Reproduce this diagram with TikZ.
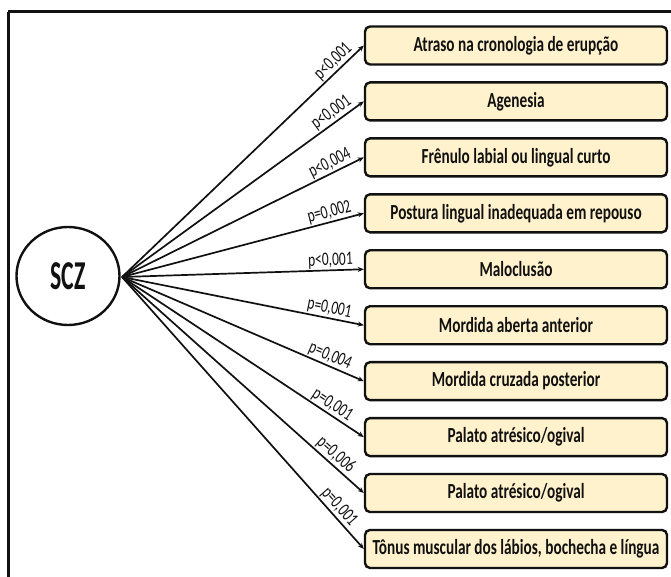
\documentclass[tikz,border=0pt]{standalone}
\usepackage{fontspec}
\setmainfont{Carlito}
\newfontfamily\boxfont[FakeStretch=0.71]{Carlito}
\newfontfamily\labfont[FakeStretch=0.71]{Carlito}
\newfontfamily\bigfont[FakeStretch=0.58]{Carlito}
\usetikzlibrary{arrows.meta,shapes.geometric}
\definecolor{boxfill}{HTML}{FFF2CC}
\definecolor{ink}{HTML}{111111}
\tikzset{
  itembox/.style={draw=ink, line width=2.4pt, rounded corners=5pt, fill=boxfill,
    minimum width=302pt, minimum height=38pt, inner sep=0pt,
    font=\boxfont\bfseries\fontsize{21.5}{23}\selectfont, text=ink},
  hub/.style={draw=ink, line width=2.4pt, ellipse, minimum width=103pt, minimum height=98pt,
    inner sep=0pt, font=\bigfont\bfseries\fontsize{41}{44}\selectfont, text=ink},
  link/.style={draw=ink, line width=1.7pt, -{Stealth[length=6pt,width=5pt]}},
  plab/.style={sloped, anchor=south east, inner sep=1pt,
    font=\labfont\fontsize{19}{20}\selectfont, text=ink}
}
\begin{document}
\begin{tikzpicture}[x=1pt,y=-1pt]
\useasboundingbox (0,0) rectangle (671,577);
\clip (0,0) rectangle (671,577);
\draw[line width=3pt, ink] (8,12) -- (690,12) (8,12) -- (8,600);
\node[hub] (scz) at (68,276) {SCZ};
\coordinate (src) at (122,277);
\foreach \i/\t/\p in {
  0/{Atraso na cronologia de erupção}/{p<0,001},
  1/{Agenesia}/{p<0,001},
  2/{Frênulo labial ou lingual curto}/{p<0,004},
  3/{Postura lingual inadequada em repouso}/{p=0,002},
  4/{Maloclusão}/{p<0,001},
  5/{Mordida aberta anterior}/{p=0,001},
  6/{Mordida cruzada posterior}/{p=0,004},
  7/{Palato atrésico/ogival}/{p=0,001},
  8/{Palato atrésico/ogival}/{p=0,006},
  9/{Tônus muscular dos lábios, bochecha e língua}/{p=0,001}} {
  \pgfmathsetmacro\dy{45.5+55.94*\i-277}
  \pgfmathsetmacro\len{veclen(243,\dy)}
  \pgfmathsetmacro\back{9+(\dy>0 ? 20*\dy/\len : 0)}
  \pgfmathsetmacro\pp{1-\back/\len}
  \node[itembox] (b\i) at (516, 45.5+55.94*\i) {\t};
  \draw[link] (src) -- (b\i.west) node[plab, pos=\pp] {\p};
}
\end{tikzpicture}
\end{document}
